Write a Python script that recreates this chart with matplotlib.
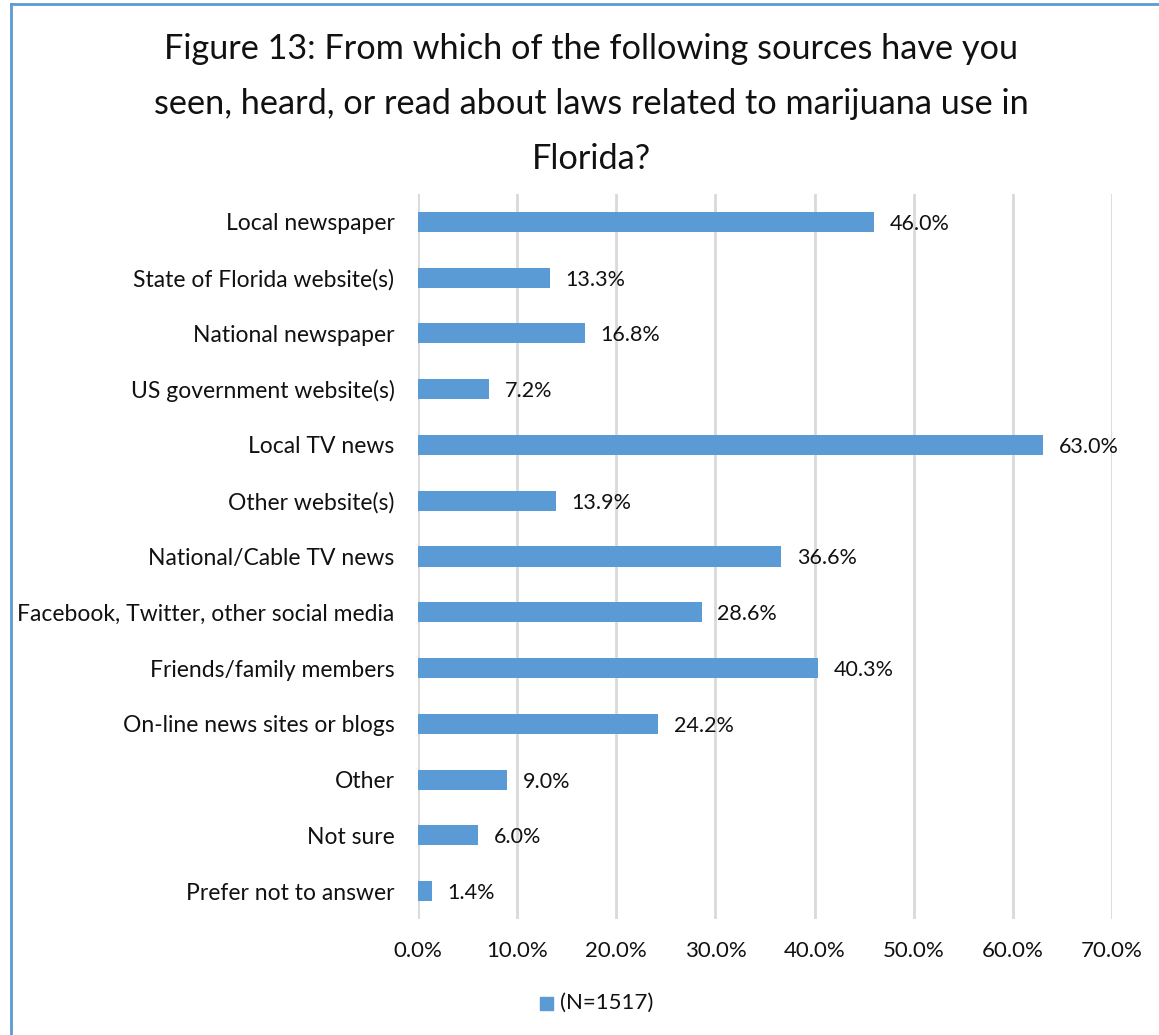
import matplotlib.pyplot as plt
from matplotlib.lines import Line2D
from matplotlib.patches import Rectangle

plt.rcParams['font.family'] = ['Lato', 'DejaVu Sans']

categories = ["Local newspaper", "State of Florida website(s)", "National newspaper",
              "US government website(s)", "Local TV news", "Other website(s)",
              "National/Cable TV news", "Facebook, Twitter, other social media",
              "Friends/family members", "On-line news sites or blogs", "Other",
              "Not sure", "Prefer not to answer"]
values = [46.0, 13.3, 16.8, 7.2, 63.0, 13.9, 36.6, 28.6, 40.3, 24.2, 9.0, 6.0, 1.4]
xticks = [0, 10, 20, 30, 40, 50, 60, 70]
legend_label = "(N=1517)"
title = ("Figure 13: From which of the following sources have you\n"
         "seen, heard, or read about laws related to marijuana use in\n"
         "Florida?")

blue = "#5B9BD5"

fig = plt.figure(figsize=(11.59, 10.35), dpi=100)
ax = fig.add_axes([0.3607, 0.1121, 0.5987, 0.7005])

pos = list(range(len(categories)))
ax.barh(pos, values, height=0.36, color=blue, zorder=3)
for p, v in zip(pos, values):
    ax.text(v + 1.6, p, f"{v:.1f}%", va="center_baseline", ha="left", fontsize=15.5,
            color="#111111")

ax.set_xlim(0, 70)
ax.set_ylim(len(categories) - 0.5, -0.5)
ax.set_yticks(pos)
ax.set_yticklabels(categories, fontsize=16.5)
ax.set_xticks(xticks)
ax.set_xticklabels([f"{t:.1f}%" for t in xticks], fontsize=16)
ax.tick_params(axis="both", length=0, colors="#111111")
ax.tick_params(axis="y", pad=17)
ax.tick_params(axis="x", pad=16)
ax.grid(axis="x", color="#D9D9D9", linewidth=2, zorder=0)
for s in ax.spines.values():
    s.set_visible(False)

fig.text(0.51, 1 - 104 / 1035, title, ha="center", va="center", fontsize=24.7,
         linespacing=1.9, color="#111111")

# legend square and label
fig.patches.append(Rectangle((540 / 1159, 1 - 1010 / 1035), 13 / 1159, 13 / 1035,
                             transform=fig.transFigure, color=blue))
fig.text(560 / 1159, 1 - 1003 / 1035, legend_label, ha="left", va="center",
         fontsize=16, color="#111111")

# chart area border
fig.add_artist(Line2D([11 / 1159, 11 / 1159], [0, 1 - 4 / 1035], transform=fig.transFigure,
                      color=blue, linewidth=2))
fig.add_artist(Line2D([11 / 1159, 1], [1 - 4 / 1035, 1 - 4 / 1035], transform=fig.transFigure,
                      color=blue, linewidth=2))

fig.savefig("out.png", dpi=100)
